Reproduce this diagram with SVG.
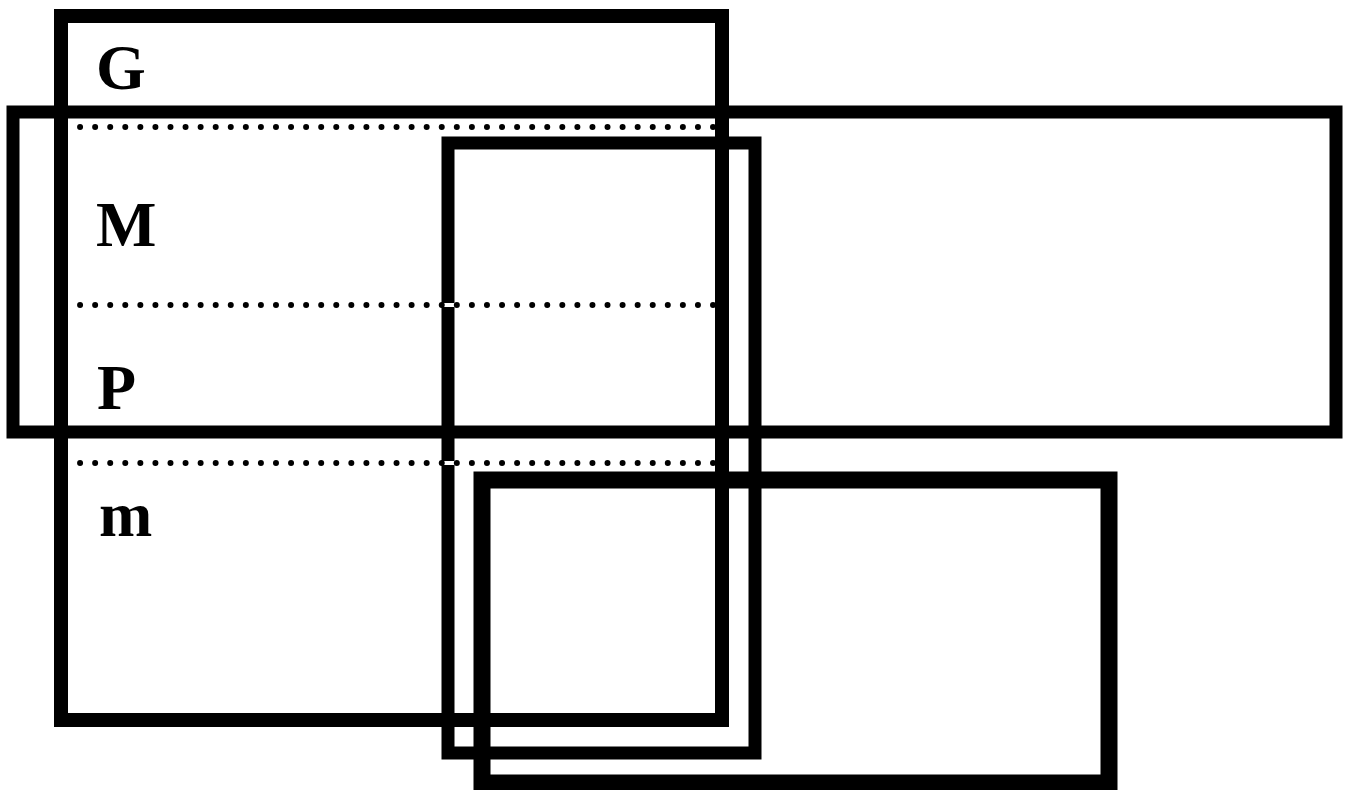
<svg xmlns="http://www.w3.org/2000/svg" width="1353" height="790" viewBox="0 0 1353 790">
<style>
.box{fill:none;stroke:#000;stroke-linejoin:miter}
.gap{stroke:#fff;stroke-width:4;fill:none}
.dots{stroke:#000;stroke-width:6;stroke-linecap:round;stroke-dasharray:0 15.07;fill:none}
.lbl{font-family:"Liberation Serif","Times New Roman",serif;font-weight:bold;font-size:64px;fill:#000}
</style>
<rect width="1353" height="790" fill="#fff"/>
<g id="box-G"><rect class="box" x="61" y="16" width="661" height="704" stroke-width="14"/></g>
<g id="box-wide"><rect class="box" x="13" y="112" width="1323" height="320" stroke-width="13"/></g>
<g id="box-middle"><rect class="box" x="448" y="143" width="307" height="610" stroke-width="13"/></g>
<g id="box-bottom"><rect class="box" x="482" y="480" width="627" height="303" stroke-width="17"/></g>
<g id="connectors">
<line class="gap" x1="68" y1="127" x2="715" y2="127"/>
<line class="gap" x1="68" y1="305" x2="715" y2="305"/>
<line class="gap" x1="68" y1="463" x2="715" y2="463"/>
<line class="dots" x1="65" y1="127" x2="728" y2="127"/>
<line class="dots" x1="65" y1="305" x2="728" y2="305"/>
<line class="dots" x1="65" y1="463" x2="728" y2="463"/>
</g>
<g id="label-G"><text class="lbl" x="96" y="89">G</text></g>
<g id="label-M"><text class="lbl" x="96" y="246">M</text></g>
<g id="label-P"><text class="lbl" x="97" y="409">P</text></g>
<g id="label-m"><text class="lbl" x="99" y="536">m</text></g>
</svg>
